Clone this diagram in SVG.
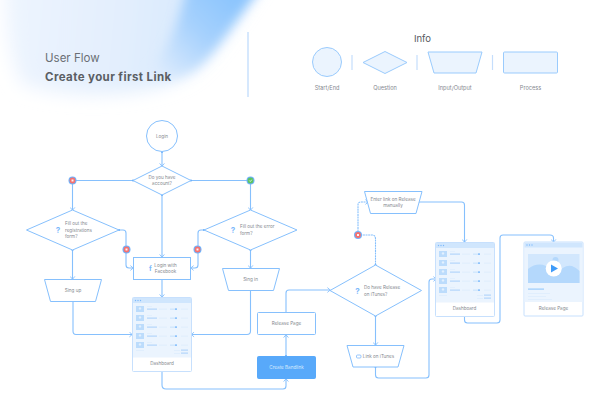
<svg xmlns="http://www.w3.org/2000/svg" width="608" height="420" viewBox="0 0 608 420">
<style>
text{font-family:"Inter","Liberation Sans",sans-serif;fill:#85898f}
.t{font-size:4.6px}
.m{text-anchor:middle}
.lg{font-size:5.6px}
.n{fill:#fff;stroke:#86c0fd;stroke-width:1}
.k{fill:#ebf4fe;stroke:#9acbfd;stroke-width:1}
.c{fill:none;stroke:#86c0fd;stroke-width:1.1;marker-end:url(#a);marker-start:url(#d)}
.p{fill:none;stroke:#86c0fd;stroke-width:1.1;marker-start:url(#d)}
.ds{stroke-dasharray:2 .6}
.q{font-size:8px;font-weight:700;fill:#7db9fb;text-anchor:middle}
.sep{stroke:#c5defc;stroke-width:1.2}
.l1{fill:#dcebfc}.l2{fill:#a9d0fb}
</style>
<defs>
<linearGradient id="bg" gradientUnits="userSpaceOnUse" x1="0" y1="20" x2="210" y2="40">
<stop offset="0" stop-color="#eef5fe"/><stop offset=".6" stop-color="#e2eefd"/><stop offset="1" stop-color="#d6e8fd"/>
</linearGradient>
<linearGradient id="bd" gradientUnits="userSpaceOnUse" x1="235" y1="0" x2="160" y2="75">
<stop offset="0" stop-color="#8cc5fd"/><stop offset=".45" stop-color="#a6d1fd"/><stop offset="1" stop-color="#deecfd"/>
</linearGradient>
<filter id="b1" filterUnits="userSpaceOnUse" x="-60" y="-60" width="420" height="240"><feGaussianBlur stdDeviation="9"/></filter>
<filter id="b2" filterUnits="userSpaceOnUse" x="-60" y="-60" width="420" height="240"><feGaussianBlur stdDeviation="6"/></filter>
<marker id="a" markerWidth="6" markerHeight="6" refX="4.4" refY="3" orient="auto" markerUnits="userSpaceOnUse"><path d="M1.8 .6L4.6 3L1.8 5.400" fill="none" stroke="#86c0fd" stroke-width=".9"/></marker>
<marker id="d" markerWidth="4" markerHeight="4" refX="2" refY="2" orient="auto" markerUnits="userSpaceOnUse"><circle cx="2" cy="2" r="1.100" fill="#6fb2fb"/></marker>
<g id="row">
<rect x="0" y="0" width="8" height="6" fill="#bcdcfc"/><circle cx="4" cy="2.400" r="1.200" fill="#e3f0fe"/>
<rect x="11" y="0" width="5" height=".6" class="l1"/><rect x="11" y="2.600" width="10" height="1" class="l2"/>
<rect x="23" y="2.700" width="8" height=".8" class="l1"/><rect x="34" y="2.700" width="7" height=".8" fill="#bcdcfc"/><circle cx="40" cy="3.100" r=".9" fill="#6fb2fb"/><rect x="45" y="2.700" width="7" height=".8" class="l1"/>
</g>
<g id="dash">
<rect x=".5" y=".5" width="59" height="74" rx="1" fill="#fff" stroke="#c7e0fd"/>
<rect x="1" y="1" width="58" height="59.500" fill="#ebf4fe"/>
<rect x="1" y="1" width="58" height="5" fill="#d0e6fd"/>
<circle cx="3.500" cy="3.500" r=".7" fill="#7db9fb"/><circle cx="6" cy="3.500" r=".7" fill="#7db9fb"/><circle cx="8.500" cy="3.500" r=".7" fill="#7db9fb"/>
<use href="#row" x="4" y="9"/><use href="#row" x="4" y="18"/><use href="#row" x="4" y="27"/><use href="#row" x="4" y="36"/><use href="#row" x="4" y="45"/>
<rect x="4" y="53" width="8" height=".7" class="l1"/>
<rect x="42" y="53" width="6" height=".7" class="l1"/><rect x="42" y="56" width="6" height=".7" class="l1"/>
<rect x="49" y="52.600" width="7" height="1" class="l2"/><rect x="49" y="55.600" width="7" height="1" class="l2"/>
</g>
<g id="xb"><circle r="4" fill="#6fb2fb"/><circle r="2.900" fill="#f6716f"/><rect x="-1" y="-1" width="2" height="2" fill="#fff" opacity=".9"/></g>
</defs>

<g id="background">
<path d="M5-30H268C240 5 222 45 190 72C150 98 70 100 22 84C10 60 5 30 5-30Z" fill="url(#bg)" filter="url(#b1)"/>
<path d="M190-25H272C245 5 228 35 205 60C190 76 165 82 148 76C170 50 180 20 190-25Z" fill="url(#bd)" filter="url(#b2)"/>
</g>

<g id="title">
<text x="45" y="62" font-size="11.500" style="fill:#6b6f75">User Flow</text>
<text x="45" y="81" font-size="11.500" font-weight="700" letter-spacing=".4" style="fill:#5a5e64">Create your first Link</text>
<line x1="248" y1="32" x2="248" y2="97" stroke="#c5defc" stroke-width="1.400"/>
</g>

<g id="legend">
<text x="422.500" y="42" font-size="9.500" class="m" style="fill:#55595f">Info</text>
<circle cx="327" cy="62" r="14.500" class="k"/>
<line x1="352" y1="55" x2="352" y2="70" class="sep"/>
<path d="M363 62.500L385 51.500L407 62.500L385 73.500Z" class="k"/>
<line x1="417" y1="55" x2="417" y2="70" class="sep"/>
<path d="M428 52H482L476 73H434Z" class="k" stroke-linejoin="round"/>
<line x1="492.500" y1="55" x2="492.500" y2="70" class="sep"/>
<rect x="503.500" y="52" width="54" height="21" rx="1" class="k"/>
<text x="327" y="90" class="m lg">Start/End</text>
<text x="385" y="90" class="m lg">Question</text>
<text x="455" y="90" class="m lg">Input/Output</text>
<text x="530.500" y="90" class="m lg">Process</text>
</g>

<g id="connectors">
<path class="c" d="M162 152V166"/>
<path class="p" d="M133 180.500H72.500V210" style="marker-end:url(#a)"/>
<path class="p" d="M191 180.500H250.500V210" style="marker-end:url(#a)"/>
<path class="c" d="M162 195V257"/>
<path class="c" d="M119 230H123Q126 230 126 233V265Q126 268 129 268H133"/>
<path class="c" d="M204 230H201Q198 230 198 233V265Q198 268 195 268H191"/>
<path class="c" d="M72.500 250V279"/>
<path class="c" d="M250.500 250V268"/>
<path class="c" d="M162 279V297"/>
<path class="c" d="M73 301V331Q73 334.500 76 334.500H132"/>
<path class="c" d="M250.500 290V331Q250.500 334.500 247 334.500H191.500"/>
<path class="c" d="M162 371V385Q162 389 166 389H283Q286 389 286 386V379"/>
<path class="c" d="M286 356V335"/>
<path class="c" d="M286 313V293Q286 290 289 290H330"/>
<path class="c" d="M375.500 316V345"/>
<path class="c" d="M375.500 367V375Q375.500 378 378.500 378H426Q429 378 429 375V282Q429 279 432 279H436"/>
<path class="p ds" d="M375.500 265V239Q375.500 235 372 235H358V205Q358 202 361 202H368" style="marker-end:url(#a)"/>
<path class="c" d="M418 202H461.500Q464.500 202 464.500 205V242"/>
<path class="c" d="M464.500 316V320Q464.500 323 467.500 323H497Q500 323 500 320V238Q500 235 503 235H550Q553.500 235 553.500 238V242"/>
</g>

<g id="login"><circle cx="162" cy="136" r="15.500" class="n"/><text x="162" y="137.700" class="t m">Login</text></g>
<g id="q-account"><path d="M133 180.500L162 166L191 180.500L162 195Z" class="n"/><text x="162" y="178.500" class="t m">Do you have</text><text x="162" y="185" class="t m">account?</text></g>
<g id="q-registration"><path d="M26.500 230L72.500 210L119 230L72.500 250Z" class="n"/><text x="58" y="233" class="q">?</text><text x="65" y="224.500" class="t">Fill out the</text><text x="65" y="231.500" class="t">registrations</text><text x="65" y="237.500" class="t">form?</text></g>
<g id="q-error"><path d="M204 230L250.500 210L297 230L250.500 250Z" class="n"/><text x="233" y="233" class="q">?</text><text x="240" y="228" class="t">Fill out the error</text><text x="240" y="234.500" class="t">form?</text></g>
<g id="facebook"><rect x="133.500" y="257.500" width="57" height="22" class="n"/><text x="150.500" y="271" font-size="7" font-weight="700" class="m" style="fill:#7db9fb">f</text><text x="165.500" y="266.500" class="t m">Login with</text><text x="165.500" y="273" class="t m">Facebook</text></g>
<g id="sign-up"><path d="M44.500 279.500H101.500L95.500 301.500H50.500Z" class="n"/><text x="73" y="291.700" class="t m">Sing up</text></g>
<g id="sign-in"><path d="M222.500 268.500H279.500L273.500 290.500H228.500Z" class="n"/><text x="250.500" y="280.700" class="t m">Sing in</text></g>
<g id="dashboard-1"><use href="#dash" x="132" y="297"/><text x="162" y="364.500" class="t m">Dashboard</text></g>
<g id="release-step"><rect x="257.500" y="312.500" width="58" height="22" rx="1" class="n"/><text x="286.500" y="325" class="t m">Release Page</text></g>
<g id="bandlink"><rect x="257.500" y="356.500" width="58" height="22" rx="1" fill="#58a9fa" stroke="#58a9fa"/><text x="286.500" y="369" class="t m" style="fill:#d8ebfe">Create Bandlink</text></g>
<g id="enter-link"><path d="M364.500 191.500H422L416 213.500H370.500Z" class="n"/><text x="393" y="200.500" class="t m">Enter link on Release</text><text x="393" y="207" class="t m">manually</text></g>
<g id="q-release"><path d="M330 290.500L375.500 265L421.500 290.500L375.500 316Z" class="n"/><text x="357.500" y="294" class="q">?</text><text x="364" y="288.500" class="t">Do have Release</text><text x="364" y="295.500" class="t">on iTunes?</text></g>
<g id="itunes"><path d="M347 345.500H404L398 367H353Z" class="n"/><rect x="356.500" y="355" width="4.500" height="3" rx="1" fill="none" stroke="#7db9fb" stroke-width=".8"/><text x="378.500" y="357.700" class="t m">Link on iTunes</text></g>
<g id="dashboard-2"><use href="#dash" x="435" y="242"/><text x="464.500" y="309.500" class="t m">Dashboard</text></g>
<g id="release-page">
<rect x="524" y="242" width="59" height="74" rx="1" fill="#fff" stroke="#c7e0fd"/>
<rect x="524.500" y="242.500" width="58" height="59.500" fill="#ebf4fe"/>
<rect x="524.500" y="242.500" width="58" height="5" fill="#d0e6fd"/>
<circle cx="527" cy="245" r=".7" fill="#7db9fb"/><circle cx="529.500" cy="245" r=".7" fill="#7db9fb"/><circle cx="532" cy="245" r=".7" fill="#7db9fb"/>
<rect x="528" y="254" width="51.500" height="29" fill="#d2e7fd"/>
<path d="M528 283V269Q537 262 546 266Q552 270 556 275Q564 264 572 266Q577 268 579.500 271V283Z" fill="#b4d8fc"/>
<circle cx="555.500" cy="260" r="3" fill="#b4d8fc"/>
<circle cx="553.700" cy="268.500" r="8" fill="#fff"/>
<path d="M551 264.500L558 268.500L551 272.500Z" fill="#3f9bf9"/>
<rect x="528" y="288.500" width="16" height="1.200" fill="#9acbfb"/>
<rect x="528" y="293" width="22" height=".7" class="l1"/><rect x="528" y="296" width="18" height=".7" class="l1"/><rect x="528" y="299" width="24" height=".7" class="l1"/>
<text x="553.500" y="309.500" class="t m">Release Page</text>
</g>

<g id="badges">
<use href="#xb" x="72.500" y="180.500"/>
<use href="#xb" x="126.500" y="249.500"/>
<use href="#xb" x="197.500" y="249.500"/>
<use href="#xb" x="358" y="235"/>
<g transform="translate(250.500 180.500)"><circle r="4" fill="#6fb2fb"/><circle r="2.900" fill="#5cc460"/><path d="M-1.200 0L-.2 1L1.300-.8" fill="none" stroke="#fff" stroke-width=".7"/></g>
</g>
</svg>
